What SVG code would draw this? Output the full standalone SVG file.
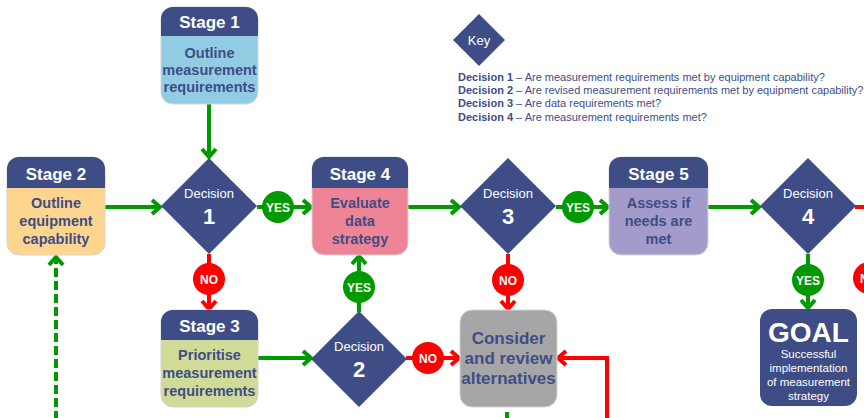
<svg xmlns="http://www.w3.org/2000/svg" width="864" height="418" viewBox="0 0 864 418">
<defs>
<style>
.hd{fill:#3E4D86}
.bd{stroke:#d4d4d4;stroke-width:1}
.ht{font-family:"Liberation Sans",Arial,sans-serif;font-weight:bold;font-size:17px;fill:#fff;text-anchor:middle}
.bt{font-family:"Liberation Sans",Arial,sans-serif;font-weight:bold;font-size:14.5px;fill:#3E4D86;text-anchor:middle}
.dm{fill:#3E4D86}
.dt{font-family:"Liberation Sans",Arial,sans-serif;font-size:13px;fill:#fff;text-anchor:middle}
.dn{font-family:"Liberation Sans",Arial,sans-serif;font-weight:bold;font-size:22px;fill:#fff;text-anchor:middle}
.g{stroke:#009A00;stroke-width:4;fill:none}
.r{stroke:#FF0000;stroke-width:4;fill:none}
.ct{font-family:"Liberation Sans",Arial,sans-serif;font-weight:bold;font-size:12px;fill:#fff;text-anchor:middle}
.kt{font-family:"Liberation Sans",Arial,sans-serif;font-size:11px;fill:#3E4D86}
.kb{font-weight:bold}
</style>
<marker id="ag" markerWidth="16" markerHeight="18" refX="12" refY="9" orient="auto" markerUnits="userSpaceOnUse"><path d="M4,2 L12,9 L4,16" fill="none" stroke="#009A00" stroke-width="4"/></marker>
<marker id="ar" markerWidth="16" markerHeight="18" refX="12" refY="9" orient="auto" markerUnits="userSpaceOnUse"><path d="M4,2 L12,9 L4,16" fill="none" stroke="#FF0000" stroke-width="4"/></marker>
</defs>
<rect width="864" height="418" fill="#fff"/>

<g id="connectors">
<line class="g" x1="209" y1="104" x2="209" y2="157" marker-end="url(#ag)"/>
<line class="g" x1="105" y1="207" x2="160" y2="207" marker-end="url(#ag)"/>
<line class="g" x1="257" y1="207" x2="311" y2="207" marker-end="url(#ag)"/>
<line class="r" x1="209" y1="254" x2="209" y2="309" marker-end="url(#ar)"/>
<line class="g" x1="258" y1="358" x2="311" y2="358" marker-end="url(#ag)"/>
<line class="g" x1="359" y1="312" x2="359" y2="256" marker-end="url(#ag)"/>
<line class="r" x1="406" y1="358" x2="459" y2="358" marker-end="url(#ar)"/>
<line class="g" x1="408" y1="207" x2="459" y2="207" marker-end="url(#ag)"/>
<line class="r" x1="508" y1="254" x2="508" y2="309" marker-end="url(#ar)"/>
<line class="g" x1="556" y1="207" x2="608" y2="207" marker-end="url(#ag)"/>
<line class="g" x1="708" y1="207" x2="759" y2="207" marker-end="url(#ag)"/>
<line class="g" x1="808" y1="254" x2="808" y2="308" marker-end="url(#ag)"/>
<line class="r" x1="855" y1="207" x2="866" y2="207"/>
<polyline class="r" points="607,420 607,358 558,358" marker-end="url(#ar)"/>
<line class="g" x1="507" y1="412" x2="507" y2="420"/>
<line class="g" x1="56" y1="420" x2="56" y2="257" stroke-dasharray="9,4" marker-end="url(#ag)"/>
<g id="lbl-yes1"><circle cx="278" cy="207" r="16" fill="#009A00"/><text class="ct" x="278" y="211.5">YES</text></g>
<g id="lbl-no1"><circle cx="209" cy="279" r="16" fill="#FF0000"/><text class="ct" x="209" y="283.5">NO</text></g>
<g id="lbl-yes2"><circle cx="359" cy="287" r="16" fill="#009A00"/><text class="ct" x="359" y="291.5">YES</text></g>
<g id="lbl-no2"><circle cx="428" cy="358" r="16" fill="#FF0000"/><text class="ct" x="428" y="362.5">NO</text></g>
<g id="lbl-no3"><circle cx="508" cy="280" r="16" fill="#FF0000"/><text class="ct" x="508" y="284.5">NO</text></g>
<g id="lbl-yes3"><circle cx="578" cy="207" r="16" fill="#009A00"/><text class="ct" x="578" y="211.5">YES</text></g>
<g id="lbl-yes4"><circle cx="808" cy="280" r="16" fill="#009A00"/><text class="ct" x="808" y="284.5">YES</text></g>
<g id="lbl-no4"><circle cx="869" cy="278" r="16" fill="#FF0000"/><text class="ct" x="869" y="282.5">NO</text></g>
</g>

<g id="stage1" transform="translate(161,7)">
<rect class="bd" width="97" height="97" rx="12" fill="#92CCE3"/>
<path class="hd" d="M0,29 V12 A12,12 0 0 1 12,0 H85 A12,12 0 0 1 97,12 V29 Z"/>
<text class="ht" x="48.5" y="21">Stage 1</text>
<text class="bt" x="48.5" y="51">Outline</text>
<text class="bt" x="48.5" y="68">measurement</text>
<text class="bt" x="48.5" y="85">requirements</text>
</g>

<g id="stage2" transform="translate(7,157)">
<rect class="bd" width="98" height="98" rx="12" fill="#FDD58E"/>
<path class="hd" d="M0,31 V12 A12,12 0 0 1 12,0 H86 A12,12 0 0 1 98,12 V31 Z"/>
<text class="ht" x="49" y="23">Stage 2</text>
<text class="bt" x="49" y="51">Outline</text>
<text class="bt" x="49" y="69">equipment</text>
<text class="bt" x="49" y="87">capability</text>
</g>

<g id="stage4" transform="translate(312,157)">
<rect class="bd" width="96" height="98" rx="12" fill="#F08497"/>
<path class="hd" d="M0,31 V12 A12,12 0 0 1 12,0 H84 A12,12 0 0 1 96,12 V31 Z"/>
<text class="ht" x="48" y="23">Stage 4</text>
<text class="bt" x="48" y="51">Evaluate</text>
<text class="bt" x="48" y="69">data</text>
<text class="bt" x="48" y="87">strategy</text>
</g>

<g id="stage5" transform="translate(609,157)">
<rect class="bd" width="99" height="98" rx="12" fill="#A39BC9"/>
<path class="hd" d="M0,31 V12 A12,12 0 0 1 12,0 H87 A12,12 0 0 1 99,12 V31 Z"/>
<text class="ht" x="49.5" y="23">Stage 5</text>
<text class="bt" x="49.5" y="51">Assess if</text>
<text class="bt" x="49.5" y="69">needs are</text>
<text class="bt" x="49.5" y="87">met</text>
</g>

<g id="stage3" transform="translate(161,310)">
<rect class="bd" width="97" height="97" rx="12" fill="#D1DB98"/>
<path class="hd" d="M0,30 V12 A12,12 0 0 1 12,0 H85 A12,12 0 0 1 97,12 V30 Z"/>
<text class="ht" x="48.5" y="22">Stage 3</text>
<text class="bt" x="48.5" y="50">Prioritise</text>
<text class="bt" x="48.5" y="68">measurement</text>
<text class="bt" x="48.5" y="86">requirements</text>
</g>

<g id="consider" transform="translate(460,310)">
<rect class="bd" width="97" height="97" rx="12" fill="#A6A6A6"/>
<text class="bt" x="48.5" y="34" style="font-size:17px">Consider</text>
<text class="bt" x="48.5" y="54" style="font-size:17px">and review</text>
<text class="bt" x="48.5" y="74" style="font-size:17px">alternatives</text>
</g>

<g id="goal" transform="translate(760,309)">
<rect width="97" height="97" rx="12" fill="#3E4D86"/>
<text class="ht" x="48.5" y="33" style="font-size:28px">GOAL</text>
<text class="dt" x="48.5" y="49" style="font-size:11.5px">Successful</text>
<text class="dt" x="48.5" y="63" style="font-size:11.5px">implementation</text>
<text class="dt" x="48.5" y="77" style="font-size:11.5px">of measurement</text>
<text class="dt" x="48.5" y="91" style="font-size:11.5px">strategy</text>
</g>

<g id="decision1" transform="translate(209,206)">
<polygon class="dm" points="0,-48 48,0 0,48 -48,0"/>
<text class="dt" x="0" y="-8">Decision</text>
<text class="dn" x="0" y="18">1</text>
</g>
<g id="decision2" transform="translate(359,359)">
<polygon class="dm" points="0,-48 48,0 0,48 -48,0"/>
<text class="dt" x="0" y="-8">Decision</text>
<text class="dn" x="0" y="18">2</text>
</g>
<g id="decision3" transform="translate(508,206)">
<polygon class="dm" points="0,-48 48,0 0,48 -48,0"/>
<text class="dt" x="0" y="-8">Decision</text>
<text class="dn" x="0" y="18">3</text>
</g>
<g id="decision4" transform="translate(808,206)">
<polygon class="dm" points="0,-48 48,0 0,48 -48,0"/>
<text class="dt" x="0" y="-8">Decision</text>
<text class="dn" x="0" y="18">4</text>
</g>

<g id="key">
<polygon class="dm" points="479,14 505,40 479,66 453,40"/>
<text class="dt" x="479" y="45">Key</text>
<text class="kt" x="458" y="81"><tspan class="kb">Decision 1</tspan> – Are measurement requirements met by equipment capability?</text>
<text class="kt" x="458" y="94"><tspan class="kb">Decision 2</tspan> – Are revised measurement requirements met by equipment capability?</text>
<text class="kt" x="458" y="107"><tspan class="kb">Decision 3</tspan> – Are data requirements met?</text>
<text class="kt" x="458" y="121"><tspan class="kb">Decision 4</tspan> – Are measurement requirements met?</text>
</g>
</svg>
